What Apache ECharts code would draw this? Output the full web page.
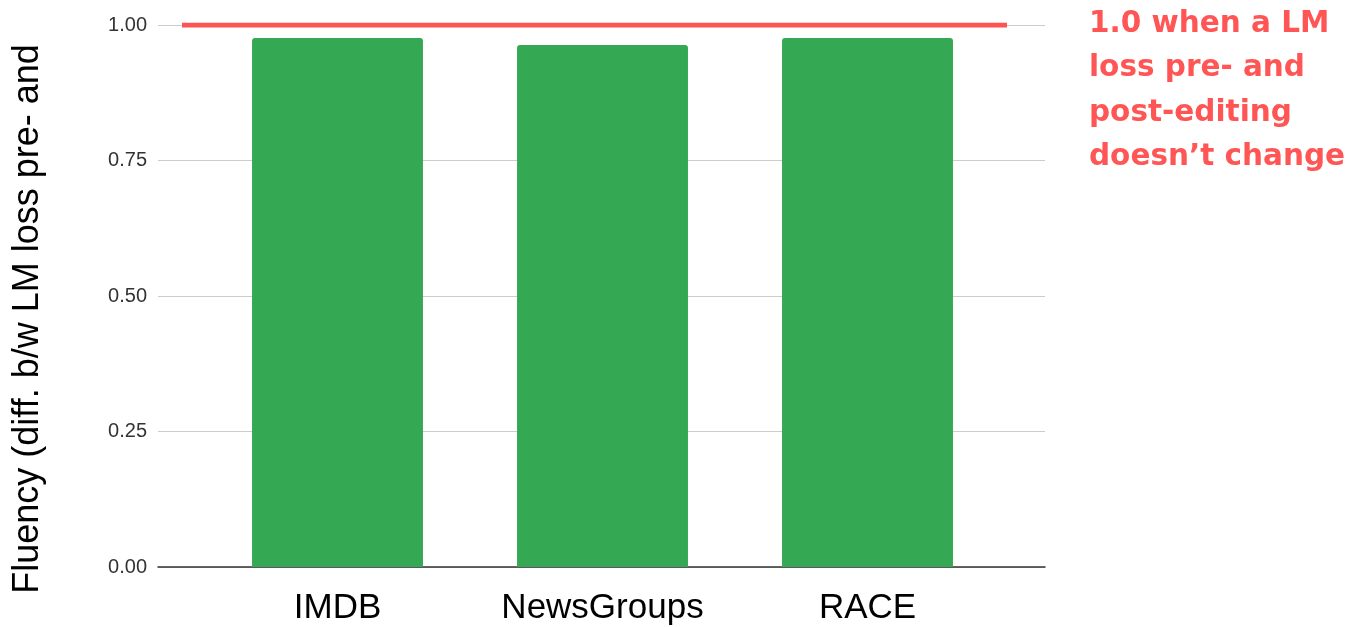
<!DOCTYPE html>
<html>
<head>
<meta charset="utf-8">
<script src="https://cdn.jsdelivr.net/npm/echarts@6/dist/echarts.min.js"></script>
<style>html,body{margin:0;padding:0;background:#fff}#c{width:1348px;height:627px}</style>
</head>
<body>
<div id="c"></div>
<script>
const categories = ['IMDB', 'NewsGroups', 'RACE'];
const fluency = [0.976, 0.963, 0.976];
const referenceValue = 1.0;
const yTicks = [0, 0.25, 0.5, 0.75, 1.0];
const yTitle = 'Fluency (diff. b/w LM loss pre- and';
const noteLines = ['1.0 when a LM', 'loss pre- and', 'post-editing', 'doesn\u2019t change'];

const chart = echarts.init(document.getElementById('c'));
const gridTop = 25, gridBottom = 60;
chart.setOption({
  animation: false,
  title: {
    text: noteLines.join('\n'),
    left: 1084, top: -3,
    textStyle: { fontFamily: 'DejaVu Sans', fontWeight: 'bold', fontSize: 29.5, lineHeight: 44.5, color: '#ff5555' }
  },
  graphic: [{
    type: 'text', x: 28, y: 319, rotation: Math.PI / 2,
    style: { text: yTitle, font: '36px "Liberation Sans", Arial', fill: '#000', align: 'center', verticalAlign: 'middle' }
  }],
  grid: [
    { left: 158, right: 303, top: gridTop, bottom: gridBottom },
    { left: 205, right: 348, top: gridTop, bottom: gridBottom },
    { left: 182, right: 341, top: gridTop, bottom: gridBottom }
  ],
  xAxis: [
    { gridIndex: 0, type: 'value', min: 0, max: 1, axisLabel: { show: false }, axisTick: { show: false }, splitLine: { show: false },
      axisLine: { show: true, lineStyle: { color: '#333', width: 1.5 } } },
    { gridIndex: 1, type: 'category', data: categories, axisLine: { show: false }, axisTick: { show: false },
      axisLabel: { fontFamily: 'Liberation Sans, Arial', fontSize: 35, color: '#000', margin: 24 } },
    { gridIndex: 2, type: 'value', min: 0, max: 1, show: false }
  ],
  yAxis: [
    { gridIndex: 0, type: 'value', min: yTicks[0], max: yTicks[yTicks.length - 1], interval: 0.25,
      axisLine: { show: false }, axisTick: { show: false },
      axisLabel: { fontFamily: 'Liberation Sans, Arial', fontSize: 20, color: '#333', margin: 11, formatter: v => v.toFixed(2) },
      splitLine: { lineStyle: { color: '#cccccc', width: 1 } } },
    { gridIndex: 1, type: 'value', min: 0, max: 1, show: false },
    { gridIndex: 2, type: 'value', min: 0, max: 1, show: false }
  ],
  series: [
    { type: 'bar', xAxisIndex: 1, yAxisIndex: 1, data: fluency, barWidth: '64.5%',
      itemStyle: { color: '#34a853', borderRadius: [3, 3, 0, 0] } },
    { type: 'line', xAxisIndex: 2, yAxisIndex: 2, data: [[0, referenceValue], [1, referenceValue]],
      symbol: 'none', lineStyle: { color: '#ff5252', width: 5 }, z: 5 }
  ]
});
</script>
</body>
</html>
